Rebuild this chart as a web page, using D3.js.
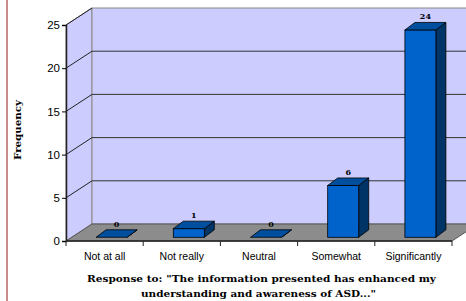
<!DOCTYPE html>
<html lang="en">
<head>
<meta charset="UTF-8">
<script src="https://d3js.org/d3.v7.min.js"></script>
<style>
  body { margin: 0; background: #fff; }
  svg { display: block; }
</style>
</head>
<body>
<svg id="vis" width="466" height="301"></svg>
<script>
  const categories = ["Not at all", "Not really", "Neutral", "Somewhat", "Significantly"];
  const frequency = [0, 1, 0, 6, 24];
  const yTicks = [0, 5, 10, 15, 20, 25];

  const svg = d3.select("#vis");
  const plotLeft = 66, plotRight = 452, plotTop = 25, plotBottom = 241;
  // 3d depth of the plot box
  const DX = 26, DY = 17;

  const x = d3.scaleBand().domain(categories).range([plotLeft, plotRight]);
  const y = d3.scaleLinear().domain([0, 25]).range([plotBottom, plotTop]);

  // page margin line
  svg.append("line").attr("x1", 7).attr("x2", 7).attr("y1", 0).attr("y2", 301)
    .attr("stroke", "#c98b8b").attr("stroke-width", 2);

  const pts = a => a.map(p => p.join(",")).join(" ");

  // left wall
  svg.append("polygon")
    .attr("points", pts([[plotLeft, y(25)], [plotLeft + DX, y(25) - DY], [plotLeft + DX, y(0) - DY], [plotLeft, y(0)]]))
    .attr("fill", "#ccccff").attr("stroke", "#888").attr("stroke-width", 1);
  // back wall
  svg.append("polygon")
    .attr("points", pts([[plotLeft + DX, y(25) - DY], [plotRight + DX, y(25) - DY], [plotRight + DX, y(0) - DY], [plotLeft + DX, y(0) - DY]]))
    .attr("fill", "#ccccff").attr("stroke", "#888").attr("stroke-width", 1);
  // floor
  svg.append("polygon")
    .attr("points", pts([[plotLeft, y(0)], [plotLeft + DX, y(0) - DY], [plotRight + DX, y(0) - DY], [plotRight, y(0)]]))
    .attr("fill", "#8c8c8c").attr("stroke", "#555").attr("stroke-width", 1);

  // gridlines
  const grid = svg.append("g");
  yTicks.filter(t => t > 0 && t < 25).forEach(t => {
    grid.append("line")
      .attr("x1", plotLeft + DX).attr("x2", plotRight + DX)
      .attr("y1", y(t) - DY).attr("y2", y(t) - DY)
      .attr("stroke", "#333").attr("stroke-width", 1);
  });
  yTicks.filter(t => t > 0).forEach(t => {
    grid.append("line")
      .attr("x1", plotLeft).attr("x2", plotLeft + DX)
      .attr("y1", y(t)).attr("y2", y(t) - DY)
      .attr("stroke", "#222").attr("stroke-width", 1);
  });

  // y axis
  const yAxis = svg.append("g").attr("transform", `translate(${plotLeft},0)`)
    .call(d3.axisLeft(y).tickValues(yTicks).tickSize(4).tickPadding(2).tickFormat(d3.format("d")));
  yAxis.select(".domain").attr("stroke", "#222").attr("stroke-width", 1.5);
  yAxis.selectAll("text").attr("font-family", "Liberation Sans, Arial, sans-serif")
    .attr("font-size", 11.5).attr("fill", "#000");

  // x axis
  const xAxis = svg.append("g").attr("transform", `translate(0,${plotBottom})`);
  xAxis.append("line").attr("x1", plotLeft).attr("x2", plotRight).attr("y1", 0).attr("y2", 0)
    .attr("stroke", "#222").attr("stroke-width", 1.5);
  const bounds = categories.map(c => x(c)).concat([plotRight]);
  xAxis.selectAll(".tk").data(bounds).join("line")
    .attr("x1", d => d).attr("x2", d => d).attr("y1", 0).attr("y2", 5)
    .attr("stroke", "#222");
  xAxis.selectAll(".lbl").data(categories).join("text")
    .attr("x", d => x(d) + x.bandwidth() / 2).attr("y", 19)
    .attr("text-anchor", "middle")
    .attr("font-family", "Liberation Sans, Arial, sans-serif").attr("font-size", 10.5)
    .text(d => d);

  // bars
  const fdx = 7, fdy = 3.7, sdx = 10, sdy = 7.5, bw = 31;
  const bars = svg.append("g");
  categories.forEach((c, i) => {
    const v = frequency[i];
    const x0 = x(c) + x.bandwidth() / 2 + fdx - bw / 2;
    const x1 = x0 + bw;
    const yb = y(0) - fdy;
    const yt = y(v) - fdy;
    // side
    bars.append("polygon")
      .attr("points", pts([[x1, yt], [x1 + sdx, yt - sdy], [x1 + sdx, yb - sdy], [x1, yb]]))
      .attr("fill", "#003366").attr("stroke", "#000").attr("stroke-width", 0.8);
    // front
    bars.append("rect").attr("x", x0).attr("y", yt).attr("width", bw).attr("height", yb - yt)
      .attr("fill", "#0063cc").attr("stroke", "#000").attr("stroke-width", 0.8);
    // top
    bars.append("polygon")
      .attr("points", pts([[x0, yt], [x0 + sdx, yt - sdy], [x1 + sdx, yt - sdy], [x1, yt]]))
      .attr("fill", "#004f9f").attr("stroke", "#000").attr("stroke-width", 0.8);
    bars.append("text")
      .attr("x", x0 + bw / 2 + sdx / 2).attr("y", yt - sdy - 3)
      .attr("text-anchor", "middle")
      .attr("font-family", "DejaVu Serif, serif")
      .attr("font-weight", "bold").attr("font-size", 8)
      .text(v);
  });

  // titles
  svg.append("text")
    .attr("transform", "translate(21,130) rotate(-90)")
    .attr("text-anchor", "middle")
    .attr("font-family", "DejaVu Serif, serif")
    .attr("font-weight", "bold").attr("font-size", 10)
    .attr("textLength", 60).attr("lengthAdjust", "spacingAndGlyphs")
    .text("Frequency");
  const titleFont = sel => sel
    .attr("text-anchor", "middle")
    .attr("font-family", "DejaVu Serif, serif")
    .attr("font-weight", "bold").attr("font-size", 10)
    .attr("lengthAdjust", "spacingAndGlyphs");
  svg.append("text").call(titleFont)
    .attr("x", 261.5).attr("y", 282).attr("textLength", 349)
    .text("Response to: \"The information presented has enhanced my");
  svg.append("text").call(titleFont)
    .attr("x", 258.5).attr("y", 297).attr("textLength", 235)
    .text("understanding and awareness of ASD...\"");
</script>
</body>
</html>
